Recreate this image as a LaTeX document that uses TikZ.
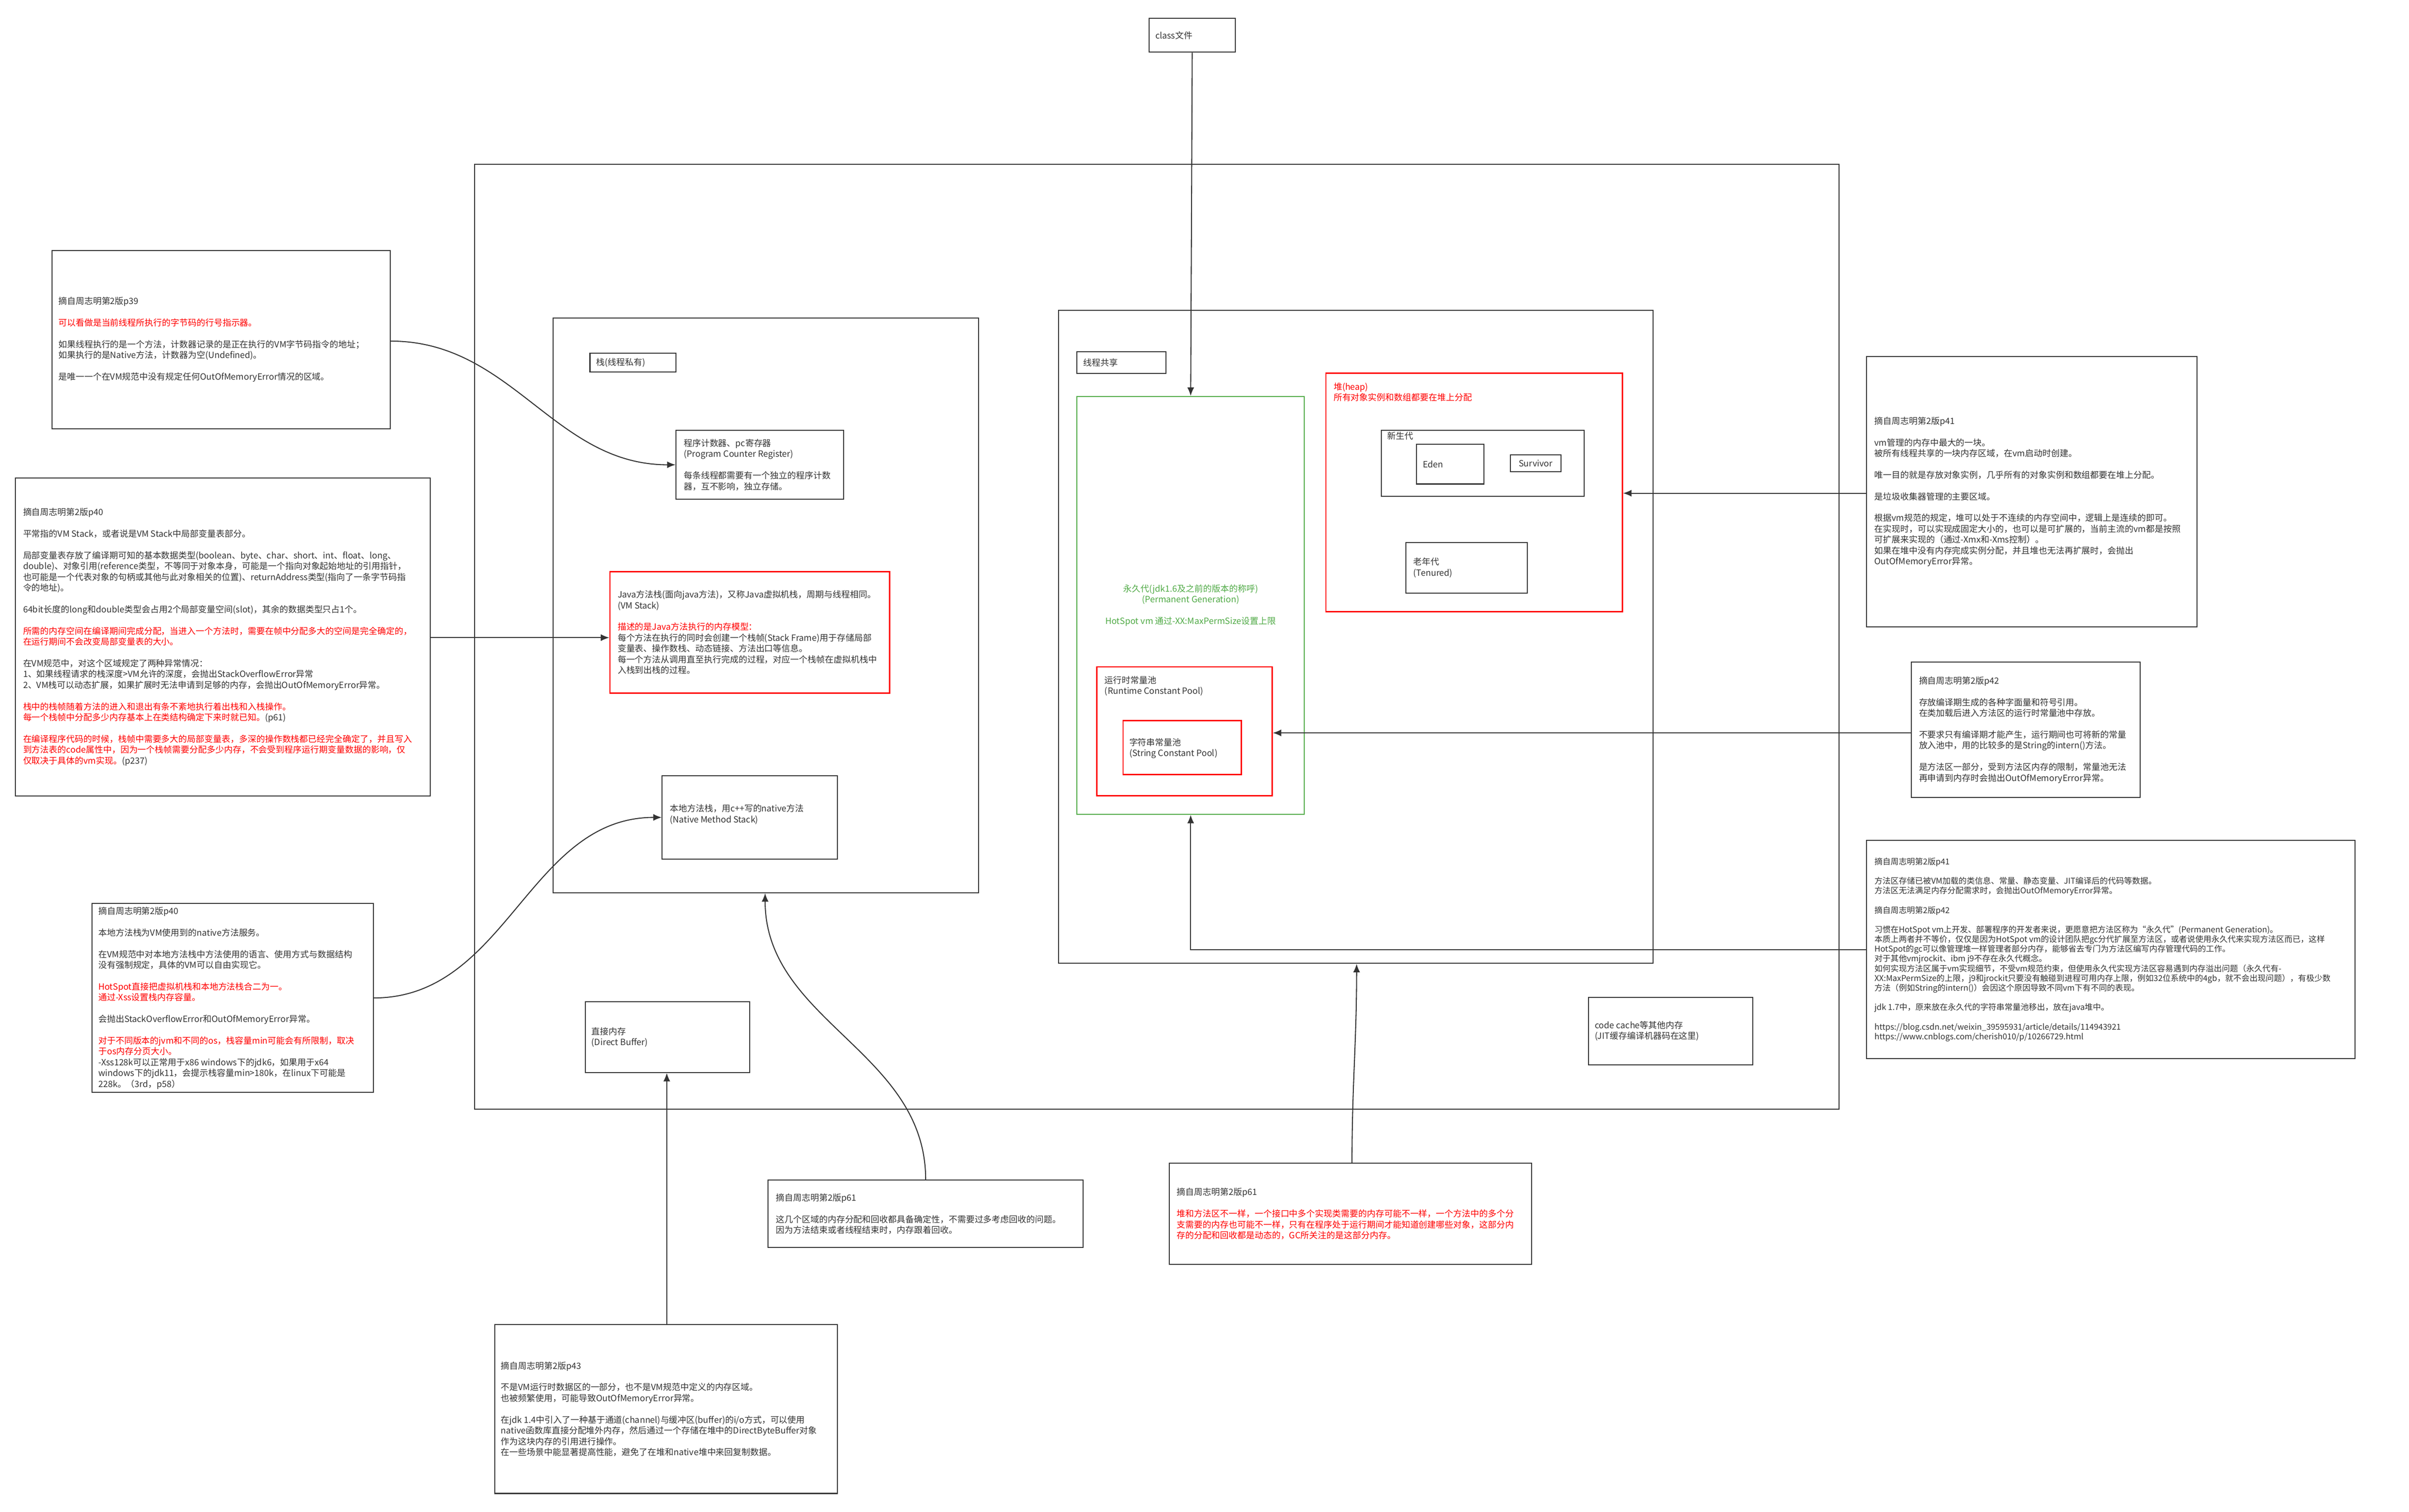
\documentclass[tikz,border=0pt]{standalone}
\usepackage{fontspec}
\setmainfont{Noto Sans CJK SC}
\usetikzlibrary{fit,arrows.meta}
\definecolor{dk}{RGB}{51,51,51}
\definecolor{rd}{RGB}{255,0,0}
\definecolor{gn}{RGB}{80,170,70}
\newcommand\bx[6]{\node[#2,fit={(#3,#4)(#5,#6)},inner sep=0pt] (#1) {};}
\begin{document}
\begin{tikzpicture}[x=1mm,y=-1mm,
  box/.style={draw=dk,line width=0.65mm},
  rbox/.style={draw=rd,line width=0.9mm},
  gbox/.style={draw=gn,line width=0.7mm},
  txt/.style={inner sep=0pt,align=left,font=\fontsize{16}{20}\selectfont,text=dk},
  arr/.style={draw=dk,line width=0.65mm,-{Latex[length=5.5mm,width=4.5mm]}}]
\useasboundingbox[fill=white] (0,0) rectangle (1568,984);

% containers
\bx{outer}{box}{309}{107}{1197}{722}
\bx{cls}{box}{748}{12}{804}{34}
\node[txt,anchor=west] (clst) at (752,23) {class文件};

\bx{stk}{box}{360}{207}{637}{581}
\bx{stkl}{box}{384}{230}{440}{242}
\node[txt,anchor=west] (stklt) at (388,236) {栈(线程私有)};
\bx{pc}{box}{440}{280}{549}{325}
\node[txt,anchor=west] (pct) at (445,302.5) {程序计数器、pc寄存器\\(Program Counter Register)\\[20pt]每条线程都需要有一个独立的程序计数\\器，互不影响，独立存储。};
\bx{js}{rbox}{397}{372}{579}{451}
\node[txt,anchor=west] (jst) at (402,411.5) {Java方法栈(面向java方法)，又称Java虚拟机栈，周期与线程相同。\\(VM Stack)\\[20pt]\textcolor{rd}{描述的是Java方法执行的内存模型：}\\每个方法在执行的同时会创建一个栈帧(Stack Frame)用于存储局部\\变量表、操作数栈、动态链接、方法出口等信息。\\每一个方法从调用直至执行完成的过程，对应一个栈帧在虚拟机栈中\\入栈到出栈的过程。};
\bx{nm}{box}{431}{505}{545}{559}
\node[txt,anchor=west] (nmt) at (436,530) {本地方法栈，用c++写的native方法\\(Native Method Stack)};

\bx{sh}{box}{689}{202}{1076}{627}
\bx{shl}{box}{701}{229}{759}{243}
\node[txt,anchor=west] (shlt) at (705,236) {线程共享};
\bx{perm}{gbox}{701}{258}{849}{530}
\node[txt,align=center,text=gn] (permt) at (775,394) {永久代(jdk1.6及之前的版本的称呼)\\(Permanent Generation)\\[20pt]HotSpot vm 通过-XX:MaxPermSize设置上限};
\bx{rcp}{rbox}{714}{434}{828}{518}
\node[txt,anchor=north west] (rcpt) at (719,440) {运行时常量池\\(Runtime Constant Pool)};
\bx{scp}{rbox}{731}{469}{808}{504}
\node[txt,anchor=west] (scpt) at (735,487) {字符串常量池\\(String Constant Pool)};
\bx{heap}{rbox}{863}{243}{1056}{398}
\node[txt,anchor=north west,text=rd] (heapt) at (868,249) {堆(heap)\\所有对象实例和数组都要在堆上分配};
\bx{yg}{box}{899}{280}{1031}{323}
\node[txt,anchor=north west] (ygt) at (903,281) {新生代};
\bx{eden}{box}{922}{289}{966}{315}
\node[txt,anchor=west] (edent) at (926,302) {Eden};
\bx{surv}{box}{983}{296}{1016}{307}
\node[txt] (survt) at (999.5,301.5) {Survivor};
\bx{old}{box}{915}{353}{994}{386}
\node[txt,anchor=west] (oldt) at (920,369.5) {老年代\\(Tenured)};

\bx{db}{box}{381}{652}{488}{698}
\node[txt,anchor=west] (dbt) at (385,675) {直接内存\\(Direct Buffer)};
\bx{cc}{box}{1034}{649}{1141}{693}
\node[txt,anchor=west] (cct) at (1038,671) {code cache等其他内存\\(JIT缓存编译机器码在这里)};

% notes
\bx{n39}{box}{34}{163}{254}{279}
\node[txt,anchor=west] (n39t) at (38,221) {摘自周志明第2版p39\\[20pt]\textcolor{rd}{可以看做是当前线程所执行的字节码的行号指示器。}\\[20pt]如果线程执行的是一个方法，计数器记录的是正在执行的VM字节码指令的地址；\\如果执行的是Native方法，计数器为空(Undefined)。\\[20pt]是唯一一个在VM规范中没有规定任何OutOfMemoryError情况的区域。};

\bx{n40}{box}{10}{311}{280}{518}
\node[txt,anchor=west] (n40t) at (15,414.5) {摘自周志明第2版p40\\[20pt]平常指的VM Stack，或者说是VM Stack中局部变量表部分。\\[20pt]局部变量表存放了编译期可知的基本数据类型(boolean、byte、char、short、int、float、long、\\double)、对象引用(reference类型，不等同于对象本身，可能是一个指向对象起始地址的引用指针，\\也可能是一个代表对象的句柄或其他与此对象相关的位置)、returnAddress类型(指向了一条字节码指\\令的地址)。\\[20pt]64bit长度的long和double类型会占用2个局部变量空间(slot)，其余的数据类型只占1个。\\[20pt]\textcolor{rd}{所需的内存空间在编译期间完成分配，当进入一个方法时，需要在帧中分配多大的空间是完全确定的，}\\\textcolor{rd}{在运行期间不会改变局部变量表的大小。}\\[20pt]在VM规范中，对这个区域规定了两种异常情况：\\1、如果线程请求的栈深度>VM允许的深度，会抛出StackOverflowError异常\\2、VM栈可以动态扩展，如果扩展时无法申请到足够的内存，会抛出OutOfMemoryError异常。\\[20pt]\textcolor{rd}{栈中的栈帧随着方法的进入和退出有条不紊地执行着出栈和入栈操作。}\\\textcolor{rd}{每一个栈帧中分配多少内存基本上在类结构确定下来时就已知。}(p61)\\[20pt]\textcolor{rd}{在编译程序代码的时候，栈帧中需要多大的局部变量表，多深的操作数栈都已经完全确定了，并且写入}\\\textcolor{rd}{到方法表的code属性中，因为一个栈帧需要分配多少内存，不会受到程序运行期变量数据的影响，仅}\\\textcolor{rd}{仅取决于具体的vm实现。}(p237)};

\bx{n40b}{box}{60}{588}{243}{711}
\node[txt,anchor=west] (n40bt) at (64,649.5) {摘自周志明第2版p40\\[20pt]本地方法栈为VM使用到的native方法服务。\\[20pt]在VM规范中对本地方法栈中方法使用的语言、使用方式与数据结构\\没有强制规定，具体的VM可以自由实现它。\\[20pt]\textcolor{rd}{HotSpot直接把虚拟机栈和本地方法栈合二为一。}\\\textcolor{rd}{通过-Xss设置栈内存容量。}\\[20pt]会抛出StackOverflowError和OutOfMemoryError异常。\\[20pt]\textcolor{rd}{对于不同版本的jvm和不同的os，栈容量min可能会有所限制，取决}\\\textcolor{rd}{于os内存分页大小。}\\-Xss128k可以正常用于x86 windows下的jdk6，如果用于x64\\windows下的jdk11，会提示栈容量min>180k，在linux下可能是\\228k。（3rd，p58）};

\bx{n41}{box}{1215}{232}{1430}{408}
\node[txt,anchor=west] (n41t) at (1220,320) {摘自周志明第2版p41\\[20pt]vm管理的内存中最大的一块。\\被所有线程共享的一块内存区域，在vm启动时创建。\\[20pt]唯一目的就是存放对象实例，几乎所有的对象实例和数组都要在堆上分配。\\[20pt]是垃圾收集器管理的主要区域。\\[20pt]根据vm规范的规定，堆可以处于不连续的内存空间中，逻辑上是连续的即可。\\在实现时，可以实现成固定大小的，也可以是可扩展的，当前主流的vm都是按照\\可扩展来实现的（通过-Xmx和-Xms控制）。\\如果在堆中没有内存完成实例分配，并且堆也无法再扩展时，会抛出\\OutOfMemoryError异常。};

\bx{n42}{box}{1244}{431}{1393}{519}
\node[txt,anchor=west] (n42t) at (1249,475) {摘自周志明第2版p42\\[20pt]存放编译期生成的各种字面量和符号引用。\\在类加载后进入方法区的运行时常量池中存放。\\[20pt]不要求只有编译期才能产生，运行期间也可将新的常量\\放入池中，用的比较多的是String的intern()方法。\\[20pt]是方法区一部分，受到方法区内存的限制，常量池无法\\再申请到内存时会抛出OutOfMemoryError异常。};

\bx{nma}{box}{1215}{547}{1533}{689}
\begin{scope}
\clip (1215,547) rectangle (1532,689);
\node[txt,anchor=west,font=\fontsize{15}{18}\selectfont] (nmat) at (1220,618) {摘自周志明第2版p41\\[18pt]方法区存储已被VM加载的类信息、常量、静态变量、JIT编译后的代码等数据。\\方法区无法满足内存分配需求时，会抛出OutOfMemoryError异常。\\[18pt]摘自周志明第2版p42\\[18pt]习惯在HotSpot vm上开发、部署程序的开发者来说，更愿意把方法区称为“永久代”(Permanent Generation)。\\本质上两者并不等价，仅仅是因为HotSpot vm的设计团队把gc分代扩展至方法区，或者说使用永久代来实现方法区而已，这样\\HotSpot的gc可以像管理堆一样管理者部分内存，能够省去专门为方法区编写内存管理代码的工作。\\对于其他vmjrockit、ibm j9不存在永久代概念。\\如何实现方法区属于vm实现细节，不受vm规范约束，但使用永久代实现方法区容易遇到内存溢出问题（永久代有-\\XX:MaxPermSize的上限，j9和jrockit只要没有触碰到进程可用内存上限，例如32位系统中的4gb，就不会出现问题），有极少数\\方法（例如String的intern()）会因这个原因导致不同vm下有不同的表现。\\[18pt]jdk 1.7中，原来放在永久代的字符串常量池移出，放在java堆中。\\[18pt]https://blog.csdn.net/weixin\_39595931/article/details/114943921\\https://www.cnblogs.com/cherish010/p/10266729.html};
\end{scope}

\bx{n61a}{box}{500}{768}{705}{812}
\node[txt,anchor=west] (n61at) at (505,790) {摘自周志明第2版p61\\[20pt]这几个区域的内存分配和回收都具备确定性，不需要过多考虑回收的问题。\\因为方法结束或者线程结束时，内存跟着回收。};
\bx{n61b}{box}{761}{757}{997}{823}
\node[txt,anchor=west] (n61bt) at (766,790) {摘自周志明第2版p61\\[20pt]\textcolor{rd}{堆和方法区不一样，一个接口中多个实现类需要的内存可能不一样，一个方法中的多个分}\\\textcolor{rd}{支需要的内存也可能不一样，只有在程序处于运行期间才能知道创建哪些对象，这部分内}\\\textcolor{rd}{存的分配和回收都是动态的，GC所关注的是这部分内存。}};
\bx{n43}{box}{322}{862}{545}{972}
\node[txt,anchor=west] (n43t) at (326,917) {摘自周志明第2版p43\\[20pt]不是VM运行时数据区的一部分，也不是VM规范中定义的内存区域。\\也被频繁使用，可能导致OutOfMemoryError异常。\\[20pt]在jdk 1.4中引入了一种基于通道(channel)与缓冲区(buffer)的i/o方式，可以使用\\native函数库直接分配堆外内存，然后通过一个存储在堆中的DirectByteBuffer对象\\作为这块内存的引用进行操作。\\在一些场景中能显著提高性能，避免了在堆和native堆中来回复制数据。};

% connectors
\draw[arr] (cls.south) -- (perm.north);
\draw[arr] (n39.east |- 0,222) to[out=0,in=180] (pc.west);
\draw[arr] (n40.east |- 0,415) -- (js.west |- 0,415);
\draw[arr] (n40b.east) to[out=0,in=180] (nm.west);
\draw[arr] (n41.west |- 0,321) -- (heap.east |- 0,321);
\draw[arr] (n42.west |- 0,477) -- (rcp.east |- 0,477);
\draw[arr] (nma.west |- 0,618) -| (perm.south);
\draw[arr] (n61a.north) to[out=90,in=-90] (stk.south -| 498,0);
\draw[arr] (n61b.north -| 880,0) to[out=90,in=-90] (sh.south -| 883,0);
\draw[arr] (n43.north -| 434,0) -- (db.south -| 434,0);
\end{tikzpicture}
\end{document}
